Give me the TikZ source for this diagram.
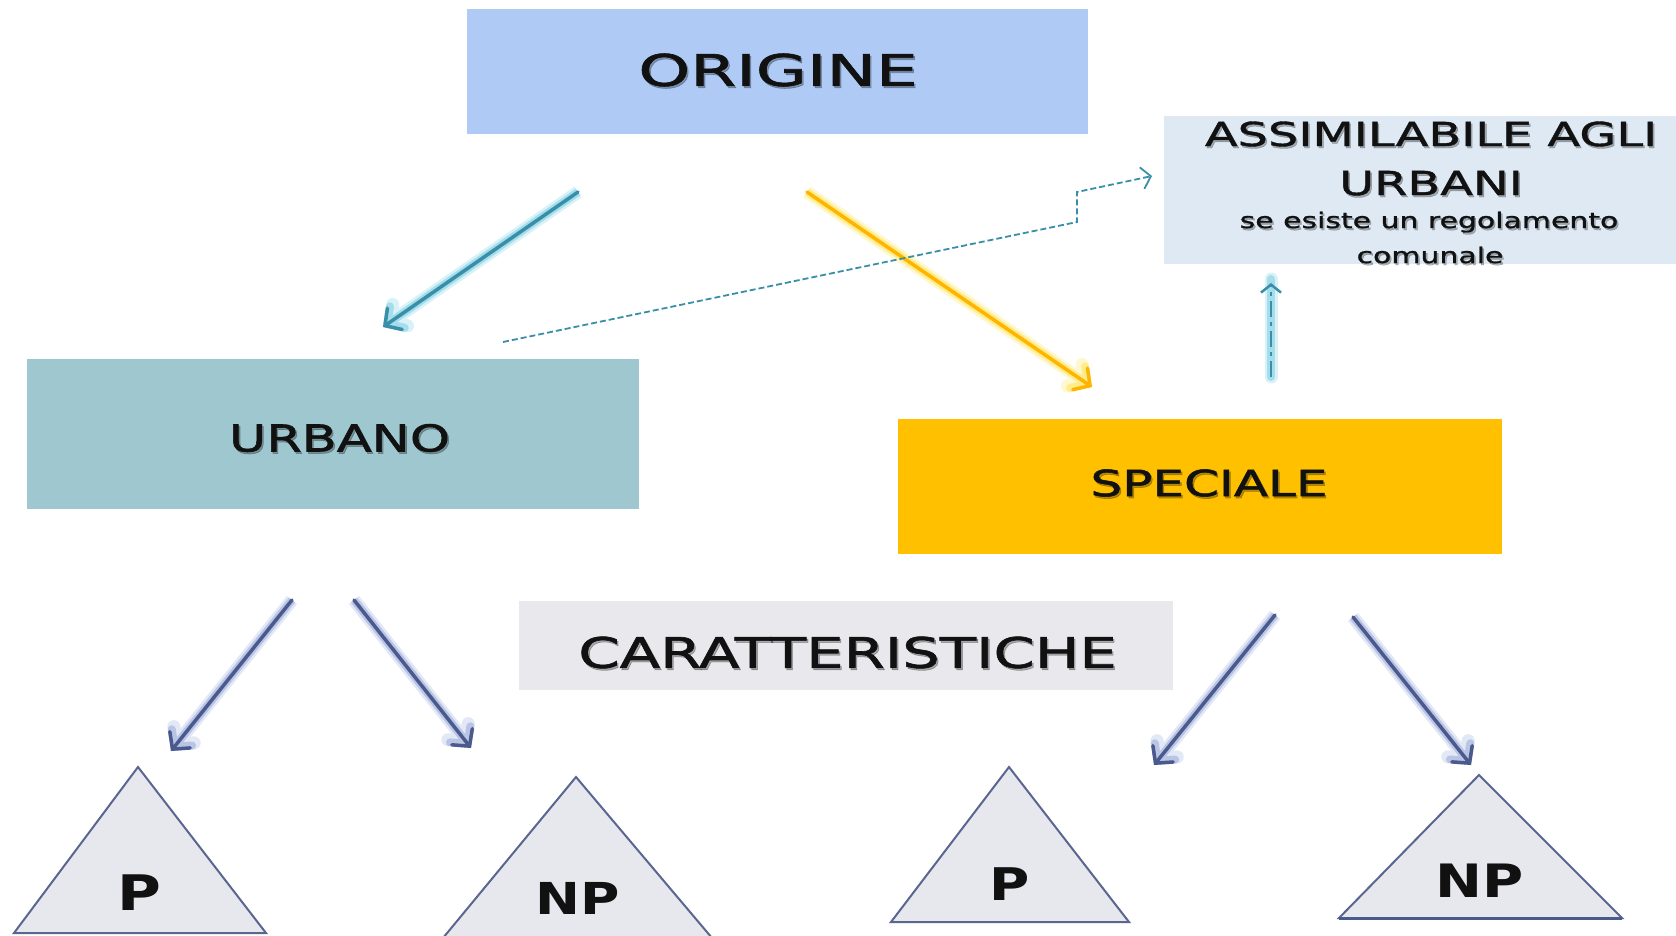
\documentclass[tikz,border=0pt]{standalone}
\usepackage{fontspec}
\setmainfont{DejaVu Sans}
\newfontfamily\fOrig{DejaVu Sans}[FakeStretch=1.52,FakeBold=1.5]
\newfontfamily\fUrb{DejaVu Sans}[FakeStretch=1.38,FakeBold=1.5]
\newfontfamily\fSpec{DejaVu Sans}[FakeStretch=1.39,FakeBold=1.5]
\newfontfamily\fCar{DejaVu Sans}[FakeStretch=1.41,FakeBold=1.5]
\newfontfamily\fAss{DejaVu Sans}[FakeStretch=1.45,FakeBold=1.2]
\newfontfamily\fSub{DejaVu Sans}[FakeStretch=1.39,FakeBold=1.2]
\newfontfamily\fTri{DejaVu Sans}[FakeStretch=1.22]
\usetikzlibrary{arrows.meta}
\definecolor{corig}{HTML}{AECAF5}
\definecolor{cass}{HTML}{DEE9F4}
\definecolor{curb}{HTML}{9FC7CF}
\definecolor{cspec}{HTML}{FFC000}
\definecolor{ccar}{HTML}{E9E8EC}
\definecolor{ctri}{HTML}{E6E8EE}
\definecolor{ctriline}{HTML}{5B6690}
\definecolor{ctext}{HTML}{111111}
\definecolor{cteal}{HTML}{3A8FA8}
\definecolor{ctealglowA}{HTML}{D8F2F8}
\definecolor{ctealglowB}{HTML}{A5DDEC}
\definecolor{cyel}{HTML}{FFB400}
\definecolor{cyelglowA}{HTML}{FFF8CF}
\definecolor{cyelglowB}{HTML}{FFEC8A}
\definecolor{cdark}{HTML}{4A5A8C}
\definecolor{cdarkglowA}{HTML}{E3E8F6}
\definecolor{cdarkglowB}{HTML}{BAC5E6}
\tikzset{
  box/.style={inner sep=0pt, outer sep=0pt},
  lbl/.style={inner sep=0pt, text=ctext},
  shadowlbl/.style={inner sep=0pt, text=black, text opacity=0.28},
  tri/.style={fill=ctri, draw=ctriline, line width=2pt, line join=miter},
  trilabel/.style={inner sep=0pt, text=ctext},
  glowarrow/.style n args={3}{draw=#1, line width=3.5pt, line cap=round,
     -{Straight Barb[length=12pt,width=26pt,line cap=round]},
     preaction={draw=#2, line width=13pt},
     preaction={draw=#3, line width=8pt}},
  darrow/.style={glowarrow={cdark}{cdarkglowA}{cdarkglowB}},
  tarrow/.style={glowarrow={cteal}{ctealglowA}{ctealglowB}},
  yarrow/.style={glowarrow={cyel}{cyelglowA}{cyelglowB}},
  dashlink/.style={draw=cteal, line width=1.8pt, dash pattern=on 6pt off 3pt,
     -{Straight Barb[length=9pt,width=22pt]}},
}
% #1 extra options, #2 name, #3 position x,y, #4 text
\newcommand\shnode[4]{%
  \node[shadowlbl,#1] (#2s) at ([shift={(1.6,2)}]#3) {#4};
  \node[lbl,#1] (#2) at (#3) {#4};}
\begin{document}
\begin{tikzpicture}[x=1pt,y=-1pt]
\useasboundingbox[fill=white] (0,0) rectangle (1676,935);

% boxes
\node[box, fill=corig, minimum width=621pt, minimum height=125pt] (origine) at (777.5,71.5) {};
\shnode{}{origineT}{778,70}{\fOrig\fontsize{43.5}{48}\selectfont ORIGINE}
\node[box, fill=cass, minimum width=512pt, minimum height=148pt] (assim) at (1420,190) {};
\shnode{anchor=base}{assimA}{1431,146}{\fAss\fontsize{33}{36}\selectfont ASSIMILABILE AGLI}
\shnode{anchor=base}{assimB}{1431,195}{\fAss\fontsize{33}{36}\selectfont URBANI}
\shnode{anchor=base}{assimC}{1429,228}{\fSub\fontsize{21.5}{24}\selectfont se esiste un regolamento}
\shnode{anchor=base}{assimD}{1430,263}{\fSub\fontsize{21.5}{24}\selectfont comunale}
\node[box, fill=curb, minimum width=612pt, minimum height=150pt] (urbano) at (333,434) {};
\shnode{}{urbanoT}{339.5,438}{\fUrb\fontsize{37}{40}\selectfont URBANO}
\node[box, fill=cspec, minimum width=604pt, minimum height=135pt] (speciale) at (1200,486.5) {};
\shnode{}{specialeT}{1209,483}{\fSpec\fontsize{36}{40}\selectfont SPECIALE}
\node[box, fill=ccar, minimum width=654pt, minimum height=89pt] (caratt) at (846,645.5) {};
\shnode{}{carattT}{847.5,652.5}{\fCar\fontsize{42}{46}\selectfont CARATTERISTICHE}

% triangles
\path[tri] (14,933) -- (138,767) -- (266,933) -- cycle;
\node[trilabel, font=\fTri\bfseries\fontsize{49}{52}\selectfont] (p1) at (139.5,893) {P};
\path[tri] (443,938) -- (576,777) -- (712,938) -- cycle;
\node[trilabel, font=\fTri\bfseries\fontsize{44}{48}\selectfont] (np1) at (578,898) {NP};
\path[tri] (891,922) -- (1009,767) -- (1129,922) -- cycle;
\node[trilabel, font=\fTri\bfseries\fontsize{45}{48}\selectfont] (p2) at (1010,884.5) {P};
\path[tri] (1339,918) -- (1479,775) -- (1622,918) -- cycle;
\draw[draw=cdark, line width=3pt] (1339,918) -- (1622,918);
\node[trilabel, font=\fTri\bfseries\fontsize{46}{50}\selectfont] (np2) at (1480,881) {NP};

% arrow end points
\coordinate (oL) at (578,192);
\coordinate (uT) at (383,327);
\coordinate (oR) at (807,192);
\coordinate (sT) at (1092,387);
\coordinate (uA) at (292,600);
\coordinate (p1T) at (171,751);
\coordinate (uB) at (354,600);
\coordinate (np1T) at (471,748);
\coordinate (sA) at (1275,615);
\coordinate (p2T) at (1154,765);
\coordinate (sB) at (1353,617);
\coordinate (np2T) at (1471,765);
\coordinate (sUp) at (1271,377);
\coordinate (aBot) at (1271,283);
\coordinate (lnkS) at (503,342);
\coordinate (lnkK1) at (1077,222);
\coordinate (lnkK2) at (1077,192);
\coordinate (lnkE) at (1152,176);

% connectors
\draw[tarrow] (oL) -- (uT);
\draw[yarrow] (oR) -- (sT);
\draw[darrow] (uA) -- (p1T);
\draw[darrow] (uB) -- (np1T);
\draw[darrow] (sA) -- (p2T);
\draw[darrow] (sB) -- (np2T);
\draw[dashlink] (lnkS) -- (lnkK1) -- (lnkK2) -- (lnkE);
\draw[draw=ctealglowA, line width=13pt, line cap=round] (sUp) -- ([yshift=4pt]aBot);
\draw[draw=ctealglowB, line width=8pt, line cap=round] (sUp) -- ([yshift=4pt]aBot);
\draw[draw=cteal, line width=2.5pt, dash pattern=on 16pt off 5pt on 4pt off 5pt,
  -{Straight Barb[length=8pt,width=20pt]}] (sUp) -- (aBot);
\end{tikzpicture}
\end{document}
